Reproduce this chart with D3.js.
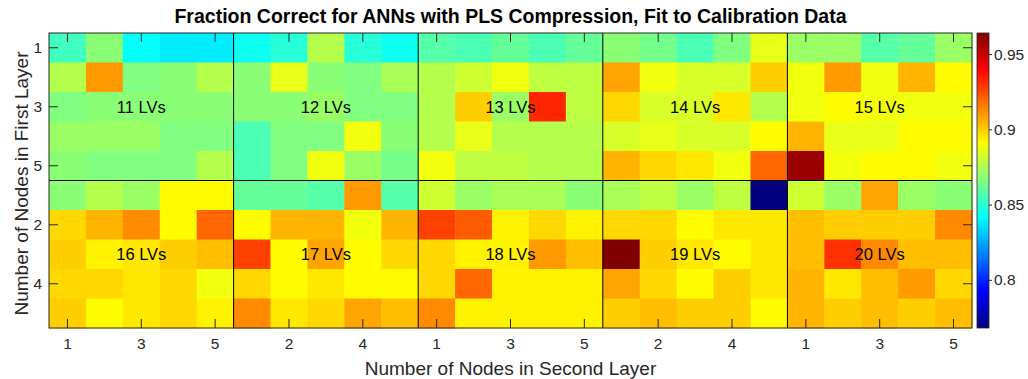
<!DOCTYPE html>
<html>
<head>
<meta charset="utf-8">
<script src="https://cdn.jsdelivr.net/npm/d3@7"></script>
<style>
  body { margin: 0; background: #fff; }
  svg { display: block; }
  text { font-family: "Liberation Sans", Arial, Helvetica, sans-serif; }
</style>
</head>
<body>
<svg id="chart" width="1028" height="379"></svg>
<script>
// Number of PLS latent variables for each block of the grid
const lvCounts = [11, 12, 13, 14, 15, 16, 17, 18, 19, 20];
const firstLayerNodes = [1, 2, 3, 4, 5];
const secondLayerNodes = [1, 2, 3, 4, 5];
const colorbarTicks = [0.8, 0.85, 0.9, 0.95];

// Fraction correct, rows = nodes in first layer, columns = nodes in second layer
const lv11 = [
  [0.854, 0.868, 0.842, 0.838, 0.838],
  [0.876, 0.910, 0.866, 0.868, 0.876],
  [0.866, 0.868, 0.868, 0.868, 0.868],
  [0.871, 0.871, 0.871, 0.866, 0.866],
  [0.868, 0.866, 0.866, 0.866, 0.876]
];
const lv12 = [
  [0.844, 0.849, 0.876, 0.849, 0.844],
  [0.868, 0.886, 0.868, 0.866, 0.874],
  [0.868, 0.868, 0.871, 0.866, 0.866],
  [0.856, 0.866, 0.866, 0.888, 0.868],
  [0.856, 0.866, 0.888, 0.871, 0.864]
];
const lv13 = [
  [0.858, 0.856, 0.861, 0.856, 0.861],
  [0.876, 0.881, 0.888, 0.878, 0.878],
  [0.876, 0.900, 0.871, 0.932, 0.878],
  [0.876, 0.886, 0.876, 0.876, 0.876],
  [0.888, 0.878, 0.878, 0.876, 0.876]
];
const lv14 = [
  [0.868, 0.864, 0.856, 0.866, 0.886],
  [0.908, 0.888, 0.883, 0.883, 0.900],
  [0.898, 0.883, 0.883, 0.895, 0.876],
  [0.883, 0.886, 0.883, 0.883, 0.891],
  [0.905, 0.898, 0.895, 0.888, 0.920]
];
const lv15 = [
  [0.871, 0.871, 0.858, 0.861, 0.871],
  [0.888, 0.910, 0.888, 0.905, 0.891],
  [0.888, 0.891, 0.888, 0.888, 0.888],
  [0.905, 0.886, 0.886, 0.891, 0.891],
  [0.959, 0.888, 0.891, 0.891, 0.888]
];
const lv16 = [
  [0.868, 0.876, 0.871, 0.891, 0.891],
  [0.898, 0.905, 0.913, 0.891, 0.920],
  [0.900, 0.893, 0.895, 0.900, 0.903],
  [0.898, 0.898, 0.895, 0.898, 0.888],
  [0.900, 0.891, 0.895, 0.898, 0.893]
];
const lv17 = [
  [0.861, 0.861, 0.858, 0.910, 0.858],
  [0.891, 0.905, 0.905, 0.888, 0.905],
  [0.927, 0.891, 0.908, 0.891, 0.898],
  [0.898, 0.891, 0.895, 0.891, 0.891],
  [0.913, 0.895, 0.898, 0.908, 0.903]
];
const lv18 = [
  [0.881, 0.871, 0.874, 0.874, 0.868],
  [0.927, 0.922, 0.893, 0.898, 0.893],
  [0.898, 0.893, 0.893, 0.910, 0.903],
  [0.898, 0.920, 0.893, 0.893, 0.893],
  [0.913, 0.893, 0.893, 0.893, 0.893]
];
const lv19 = [
  [0.874, 0.878, 0.871, 0.878, 0.768],
  [0.898, 0.898, 0.891, 0.895, 0.895],
  [0.964, 0.900, 0.895, 0.891, 0.895],
  [0.908, 0.898, 0.891, 0.900, 0.895],
  [0.900, 0.903, 0.900, 0.900, 0.891]
];
const lv20 = [
  [0.881, 0.871, 0.908, 0.871, 0.868],
  [0.903, 0.900, 0.900, 0.900, 0.913],
  [0.903, 0.930, 0.913, 0.903, 0.903],
  [0.905, 0.895, 0.903, 0.910, 0.898],
  [0.905, 0.900, 0.903, 0.900, 0.903]
];
const blocks = [lv11, lv12, lv13, lv14, lv15, lv16, lv17, lv18, lv19, lv20];

const svg = d3.select("#chart");
const plot = { left: 49, right: 972, top: 33, bottom: 328 };
const axisColor = "#262626";
const blocksPerRow = 5;
const n = firstLayerNodes.length;   // rows per block
const m = secondLayerNodes.length;  // columns per block

// Flatten blocks into grid cells
const cells = [];
blocks.forEach((block, b) => {
  const br = Math.floor(b / blocksPerRow), bc = b % blocksPerRow;
  block.forEach((row, i) => row.forEach((v, j) => {
    cells.push({ row: br * n + i, col: bc * m + j, value: v });
  }));
});

const nCols = blocksPerRow * m;
const nRows = (blocks.length / blocksPerRow) * n;

const x = d3.scaleBand().domain(d3.range(nCols)).range([plot.left, plot.right]);
const y = d3.scaleBand().domain(d3.range(nRows)).range([plot.top, plot.bottom]);

// MATLAB-style jet colormap
function jet(t) {
  const c = v => Math.round(255 * Math.max(0, Math.min(1, v)));
  return `rgb(${c(1.5 - Math.abs(4 * t - 3))},${c(1.5 - Math.abs(4 * t - 2))},${c(1.5 - Math.abs(4 * t - 1))})`;
}
const vmin = d3.min(cells, d => d.value), vmax = d3.max(cells, d => d.value);
const norm = d3.scaleLinear().domain([vmin, vmax]).range([0, 1]).clamp(true);
const color = v => jet(norm(v));

// Heatmap cells
svg.append("g").selectAll("rect").data(cells).join("rect")
  .attr("x", d => x(d.col))
  .attr("y", d => y(d.row))
  .attr("width", x.bandwidth() + 0.5)
  .attr("height", y.bandwidth() + 0.5)
  .attr("fill", d => color(d.value));

// Block separators
const sep = svg.append("g").attr("stroke", "#000").attr("stroke-width", 1);
for (let k = 1; k < blocksPerRow; k++) {
  const xx = x(k * m);
  sep.append("line").attr("x1", xx).attr("x2", xx).attr("y1", plot.top).attr("y2", plot.bottom);
}
for (let k = 1; k < nRows / n; k++) {
  const yy = y(k * n);
  sep.append("line").attr("x1", plot.left).attr("x2", plot.right).attr("y1", yy).attr("y2", yy);
}

// Block labels
svg.append("g").selectAll("text").data(lvCounts).join("text")
  .attr("x", (d, b) => x((b % blocksPerRow) * m + 2) + x.bandwidth() / 2)
  .attr("y", (d, b) => y(Math.floor(b / blocksPerRow) * n + 2) + y.bandwidth() / 2)
  .attr("text-anchor", "middle")
  .attr("dy", "0.35em")
  .attr("font-size", 16.5)
  .attr("fill", "#000")
  .text(d => `${d} LVs`);

// Axes with inward ticks
const xTicks = d3.range(0, nCols, 2);
const yTicks = d3.range(0, nRows, 2);
function styleAxis(g, showLabels) {
  g.select(".domain").remove();
  g.selectAll(".tick line").attr("stroke", axisColor);
  g.selectAll(".tick text").attr("fill", axisColor).attr("font-size", 15.5)
    .style("display", showLabels ? null : "none");
  g.attr("font-family", null).attr("font-size", null);
}
svg.append("g").attr("transform", `translate(0,${plot.bottom})`)
  .call(d3.axisBottom(x).tickValues(xTicks).tickFormat(i => secondLayerNodes[i % m])
    .tickSizeInner(-9).tickSizeOuter(0).tickPadding(10))
  .call(g => styleAxis(g, true));
svg.append("g").attr("transform", `translate(0,${plot.top})`)
  .call(d3.axisTop(x).tickValues(xTicks).tickSizeInner(-9).tickSizeOuter(0))
  .call(g => styleAxis(g, false));
svg.append("g").attr("transform", `translate(${plot.left},0)`)
  .call(d3.axisLeft(y).tickValues(yTicks).tickFormat(i => firstLayerNodes[i % n])
    .tickSizeInner(-9).tickSizeOuter(0).tickPadding(7))
  .call(g => styleAxis(g, true));
svg.append("g").attr("transform", `translate(${plot.right},0)`)
  .call(d3.axisRight(y).tickValues(yTicks).tickSizeInner(-9).tickSizeOuter(0))
  .call(g => styleAxis(g, false));

// Plot box
svg.append("rect")
  .attr("x", plot.left).attr("y", plot.top)
  .attr("width", plot.right - plot.left).attr("height", plot.bottom - plot.top)
  .attr("fill", "none").attr("stroke", axisColor).attr("stroke-width", 1);

// Colorbar
const cb = { x: 977, w: 12 };
const grad = svg.append("defs").append("linearGradient")
  .attr("id", "jetGrad").attr("x1", 0).attr("x2", 0).attr("y1", 1).attr("y2", 0);
d3.range(0, 1.0001, 1 / 64).forEach(t => {
  grad.append("stop").attr("offset", t).attr("stop-color", jet(t));
});
svg.append("rect")
  .attr("x", cb.x).attr("y", plot.top).attr("width", cb.w).attr("height", plot.bottom - plot.top)
  .attr("fill", "url(#jetGrad)").attr("stroke", axisColor).attr("stroke-width", 0.8);
const cbScale = d3.scaleLinear().domain([vmin, vmax]).range([plot.bottom, plot.top]);
svg.append("g").attr("transform", `translate(${cb.x + cb.w},0)`)
  .call(d3.axisRight(cbScale).tickValues(colorbarTicks).tickFormat(d3.format("~g"))
    .tickSizeInner(3).tickSizeOuter(0).tickPadding(2))
  .call(g => styleAxis(g, true));

// Titles
svg.append("text")
  .attr("x", (plot.left + plot.right) / 2).attr("y", 23)
  .attr("text-anchor", "middle").attr("font-size", 19.5).attr("font-weight", "bold")
  .attr("fill", "#000")
  .text("Fraction Correct for ANNs with PLS Compression, Fit to Calibration Data");
svg.append("text")
  .attr("x", (plot.left + plot.right) / 2).attr("y", 375)
  .attr("text-anchor", "middle").attr("font-size", 19).attr("fill", axisColor)
  .text("Number of Nodes in Second Layer");
svg.append("text")
  .attr("transform", `translate(28,${(plot.top + plot.bottom) / 2 + 3}) rotate(-90)`)
  .attr("text-anchor", "middle").attr("font-size", 19).attr("fill", axisColor)
  .text("Number of Nodes in First Layer");
</script>
</body>
</html>
